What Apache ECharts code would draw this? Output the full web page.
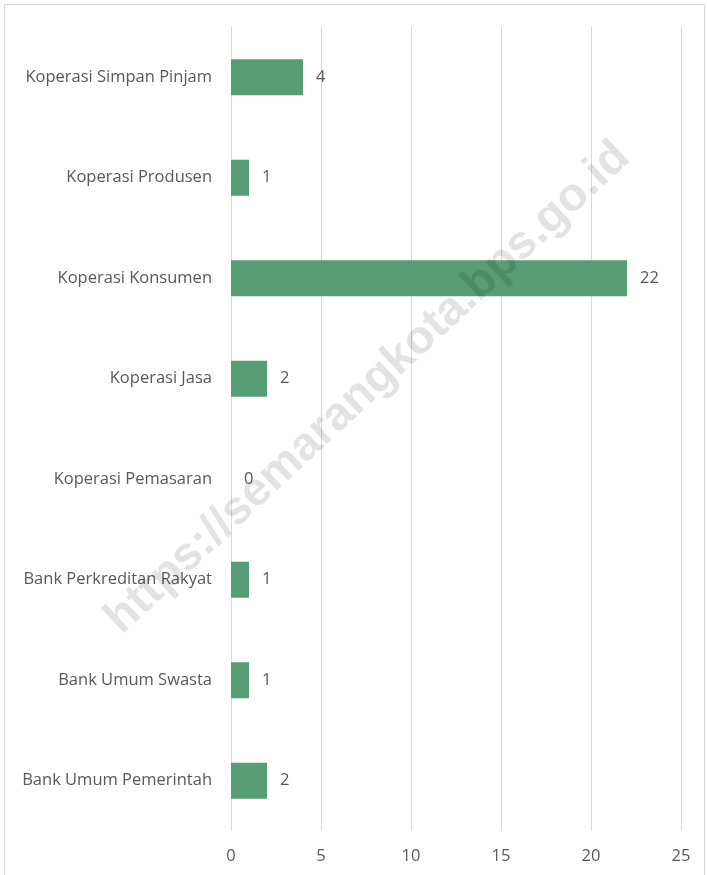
<!DOCTYPE html>
<html><head><meta charset="utf-8">
<script src="https://cdn.jsdelivr.net/npm/echarts@6/dist/echarts.min.js"></script>
<style>html,body{margin:0;padding:0;background:#fff}#c{width:707px;height:875px}</style>
</head><body><div id="c"></div>
<script>
const categories = ["Bank Umum Pemerintah","Bank Umum Swasta","Bank Perkreditan Rakyat","Koperasi Pemasaran","Koperasi Jasa","Koperasi Konsumen","Koperasi Produsen","Koperasi Simpan Pinjam"];
const values = [2,1,1,0,2,22,1,4];
const xTicks = [0,5,10,15,20,25];
const watermark = "https://semarangkota.bps.go.id";

const chart = echarts.init(document.getElementById('c'), null, {renderer:'canvas'});
const font = "'Open Sans', sans-serif";
chart.setOption({
  animation:false,
  grid:{left:231, right:26, top:27, bottom:44, containLabel:false},
  xAxis:{type:'value', min:xTicks[0], max:xTicks[xTicks.length-1], interval:5,
    axisLine:{show:false}, axisTick:{show:false},
    splitLine:{show:true, lineStyle:{color:'#d9d9d9', width:1}},
    axisLabel:{color:'#595959', fontSize:16.5, fontFamily:font, margin:17}},
  yAxis:{type:'category', data:categories,
    axisLine:{show:false}, axisTick:{show:false},
    axisLabel:{color:'#595959', fontSize:16.5, fontFamily:font, margin:19}},
  series:[{type:'bar', data:values, barWidth:36,
    itemStyle:{color:'#579E76'},
    label:{show:true, position:'right', distance:13, color:'#595959', fontSize:16.5, fontFamily:font}}],
  graphic:[
    {type:'rect', shape:{x:4.5,y:4.5,width:700,height:880}, style:{fill:'none', stroke:'#d9d9d9', lineWidth:1}, z:-1, silent:true},
    {type:'text', x:368, y:388, rotation:43*Math.PI/180, z:100, silent:true,
      style:{text:watermark, font:"bold 47px 'Liberation Sans', Arial, sans-serif", fill:'rgba(0,0,0,0.11)', textAlign:'center', textVerticalAlign:'middle'}}
  ]
});
</script></body></html>
